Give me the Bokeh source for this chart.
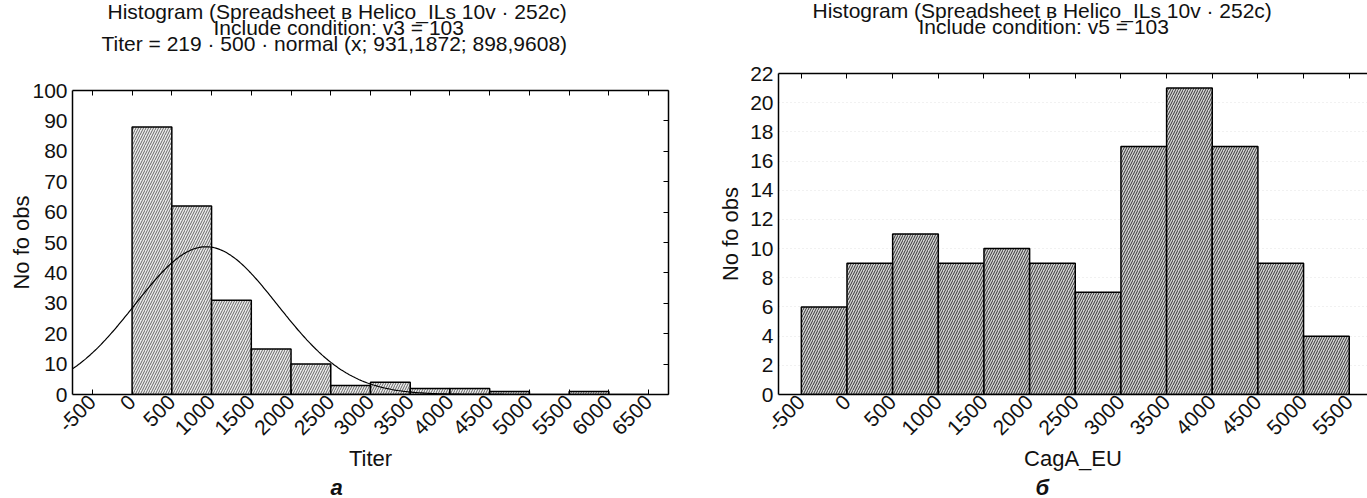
import math
import numpy as np
from bokeh.plotting import figure
from bokeh.models import LinearAxis, Title, FixedTicker, Range1d
from bokeh.layouts import row, column
from bokeh.embed import file_html
from bokeh.resources import INLINE

FONT = "Liberation Sans"

# ---- data: panel a (Titer) ----
titer_bin_left = [0, 500, 1000, 1500, 2000, 2500, 3000, 3500, 4000, 4500, 5000, 5500, 6000]
titer_counts = [88, 62, 31, 15, 10, 3, 4, 2, 2, 1, 0, 1, 0]
titer_ticks = [-500, 0, 500, 1000, 1500, 2000, 2500, 3000, 3500, 4000, 4500, 5000, 5500, 6000, 6500]
titer_yticks = [0, 10, 20, 30, 40, 50, 60, 70, 80, 90, 100]
# fitted normal curve parameters (from chart title)
fit_n = 219
fit_binw = 500
fit_mean = 931.1872
fit_sd = 898.9608

# ---- data: panel b (CagA_EU) ----
cag_bin_left = [-500, 0, 500, 1000, 1500, 2000, 2500, 3000, 3500, 4000, 4500, 5000]
cag_counts = [6, 9, 11, 9, 10, 9, 7, 17, 21, 17, 9, 4]
cag_ticks = [-500, 0, 500, 1000, 1500, 2000, 2500, 3000, 3500, 4000, 4500, 5000, 5500]
cag_yticks = [0, 2, 4, 6, 8, 10, 12, 14, 16, 18, 20, 22]
BINW = 500

title_a = ["Histogram (Spreadsheet в Helico_ILs 10v · 252c)",
           "Include condition: v3 = 103",
           "Titer = 219 · 500 · normal (x; 931,1872; 898,9608)"]
title_b = ["Histogram (Spreadsheet в Helico_ILs 10v · 252c)",
           "Include condition: v5 = 103"]
# approximate rendered widths (px) of each title line, used to centre them
title_a_widths = [462, 250, 474]
title_b_widths = [462, 250]


def style_axis(ax, ticks, labels=True, tick_in=5):
    ax.ticker = FixedTicker(ticks=ticks)
    ax.axis_line_color = "black"
    ax.axis_line_width = 1.5
    ax.major_tick_in = tick_in
    ax.major_tick_out = 0
    ax.minor_tick_in = 0
    ax.minor_tick_out = 0
    ax.major_tick_line_color = "black"
    ax.major_tick_line_width = 1
    if labels:
        ax.major_label_text_font = FONT
        ax.major_label_text_font_size = "21px"
        ax.major_label_text_color = "#111111"
        ax.major_label_overrides = {t: str(t) for t in ticks}
        ax.axis_label_text_font = FONT
        ax.axis_label_text_font_size = "22px"
        ax.axis_label_text_font_style = "normal"
        ax.axis_label_text_color = "#111111"
    else:
        ax.major_label_text_font_size = "1px"
        ax.major_label_text_color = None
        ax.major_label_standoff = 0


def make_panel(width, xr, yr, xticks, yticks, xlabel, title_lines, widths, centre,
               left_border, right_border, top_border, ylabel_standoff, letter, right_axis):
    p = figure(width=width, height=498, x_range=Range1d(*xr), y_range=Range1d(*yr),
               output_backend="svg", toolbar_location=None, title_location=None,
               min_border_left=left_border, min_border_right=right_border,
               min_border_top=top_border, min_border_bottom=104)
    p.outline_line_color = None
    p.background_fill_color = "white"
    p.border_fill_color = "white"
    p.xgrid.visible = False
    p.ygrid.visible = False

    style_axis(p.xaxis[0], xticks)
    p.xaxis[0].major_label_orientation = math.pi / 4
    p.xaxis[0].axis_label = xlabel
    p.xaxis[0].major_label_standoff = 4
    p.xaxis[0].axis_label_standoff = 2

    style_axis(p.yaxis[0], yticks, tick_in=0)
    p.yaxis[0].axis_label = "No fo obs"
    p.yaxis[0].major_label_standoff = 5
    p.yaxis[0].axis_label_standoff = ylabel_standoff

    top = LinearAxis()
    style_axis(top, xticks, labels=False)
    p.add_layout(top, "above")
    if right_axis:
        rt = LinearAxis()
        style_axis(rt, yticks, labels=False)
        p.add_layout(rt, "right")

    # blank spacer between the frame and the title block
    p.add_layout(Title(text=" ", standoff=15, text_font=FONT, text_font_size="21px"), "above")
    for line, w in zip(reversed(title_lines), reversed(widths)):
        p.add_layout(Title(text=line, align="left", offset=centre - w / 2, standoff=-9,
                           text_font=FONT, text_font_size="21px", text_font_style="normal",
                           text_color="#111111"), "above")

    p.add_layout(Title(text=letter, align="left", offset=centre - 8, standoff=-4,
                       text_font=FONT, text_font_size="22px", text_font_style="bold italic",
                       text_color="#111111"), "below")
    return p


p1 = make_panel(683, (-750, 6750), (0, 100), titer_ticks, titer_yticks, "Titer", title_a,
                title_a_widths, 266, 72, 15, 90, -5, "a", True)
p1.quad(left=titer_bin_left, right=[v + BINW for v in titer_bin_left], top=titer_counts, bottom=0,
        fill_color="#ececec", hatch_pattern="/", hatch_scale=5, hatch_color="#666666",
        hatch_weight=1, line_color="black", line_width=1.5)
xs = np.linspace(-750, 6750, 400)
ys = fit_n * fit_binw * np.exp(-0.5 * ((xs - fit_mean) / fit_sd) ** 2) / (fit_sd * math.sqrt(2 * math.pi))
p1.line(xs, ys, line_color="black", line_width=1.2)

p2 = make_panel(684, (-750, 5700), (0, 22), cag_ticks, cag_yticks, "CagA_EU", title_b,
                title_b_widths, 265, 95, 0, 73, 4, "б", False)
p2.ygrid.visible = True
p2.ygrid.ticker = FixedTicker(ticks=cag_yticks[1:])
p2.ygrid.grid_line_color = "#e2e2e2"
p2.ygrid.grid_line_dash = "1 3"
p2.quad(left=cag_bin_left, right=[v + BINW for v in cag_bin_left], top=cag_counts, bottom=0,
        fill_color="#d4d4d4", hatch_pattern="/", hatch_scale=5, hatch_color="#333333",
        hatch_weight=1, line_color="black", line_width=1.5)

layout = row(column(p1), column(p2))
open("out.html", "w").write(file_html(layout, INLINE))
